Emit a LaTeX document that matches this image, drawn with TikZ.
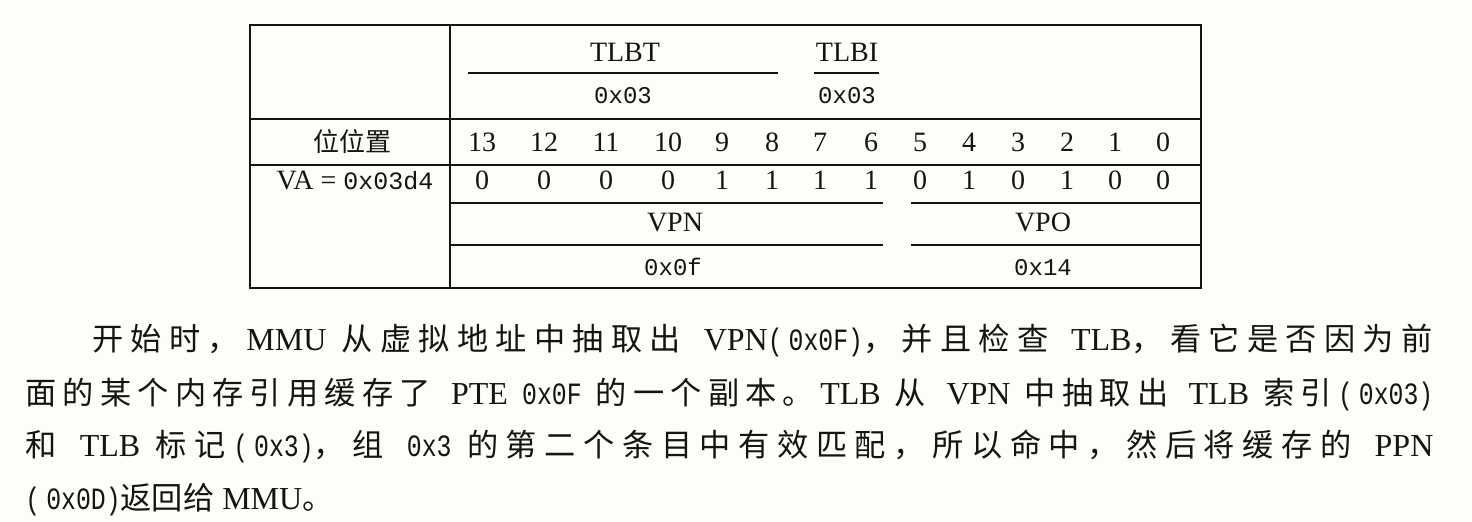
\documentclass[tikz,border=0pt]{standalone}
\usepackage{fontspec}
\setmainfont{Liberation Serif}
\setmonofont{Liberation Mono}
\newfontfamily\cjk{Noto Sans CJK SC}
\newfontfamily\narrowmono[FakeStretch=0.8]{Liberation Mono}
\definecolor{paper}{RGB}{254,254,248}
\definecolor{ink}{RGB}{20,20,20}
\def\zhloop#1{\ifx#1\relax\else#1\hskip0pt plus 1pt\relax\expandafter\zhloop\fi}
\newcommand\zh[1]{{\cjk\fontsize{15.6}{18}\selectfont\zhloop#1\relax}}
\newcommand\hexv[1]{{\fontsize{12.5}{14}\ttfamily #1}}
\newcommand\hexp[1]{{\narrowmono\fontsize{15.5}{18}\selectfont #1}}
\newcommand\hx[1]{\hexp{(\kern3pt #1)}}
\newcommand\widesp{\spaceskip=4pt plus 1pt minus 1pt\relax}

\begin{document}
\begin{tikzpicture}[x=0.5pt,y=-0.5pt,
  every node/.style={inner sep=0pt,text=ink},
  field/.style={anchor=base,font=\fontsize{14}{16}\selectfont},
  hexlab/.style={anchor=base,font=\fontsize{12}{14}\ttfamily},
  textline/.style={anchor=base west,font=\fontsize{16}{18}\selectfont},
  tabline/.style={line width=\lw,ink}]
\def\lw{0.8pt}
\fill[paper] (0,0) rectangle (1472,522);
\useasboundingbox (0,0) rectangle (1472,522);

%\draw[help lines] (0,0) grid (1472,522);
\draw [tabline, line width=1pt] (250,25) rectangle (1201,288);
\draw [tabline] (450,25) -- (450,288);
\draw [tabline] (250,119) -- (1201,119);
\draw [tabline] (250,165) -- (1201,165);
\draw [tabline] (450,203) -- (883,203);
\draw [tabline] (911,203) -- (1201,203);
\draw [tabline] (450,245) -- (883,245);
\draw [tabline] (911,245) -- (1201,245);
\draw [tabline] (468,73) -- (778,73);
\draw [tabline] (814,73) -- (879,73);

\node [field, name=tlbt]    at (625,62)  {TLBT};
\node [hexlab, name=tlbtv]  at (623,104) {0x03};
\node [field, name=tlbi]    at (847,62)  {TLBI};
\node [hexlab, name=tlbiv]  at (847,104) {0x03};
\node [field, name=pos]     at (352,152) {{\cjk\fontsize{13}{15}\selectfont 位位置}};
\node [field, name=va]      at (355,190) {VA = \hexv{0x03d4}};

\node [field, name=n13] at (482,152)  {13};
\node [field, name=n12] at (544,152)  {12};
\node [field, name=n11] at (606,152)  {11};
\node [field, name=n10] at (668,152)  {10};
\node [field, name=n9]  at (722,152)  {9};
\node [field, name=n8]  at (772,152)  {8};
\node [field, name=n7]  at (820,152)  {7};
\node [field, name=n6]  at (871,152)  {6};
\node [field, name=n5]  at (920,152)  {5};
\node [field, name=n4]  at (969,152)  {4};
\node [field, name=n3]  at (1018,152) {3};
\node [field, name=n2]  at (1067,152) {2};
\node [field, name=n1]  at (1115,152) {1};
\node [field, name=n0]  at (1163,152) {0};

\node [field, name=v13] at (482,190)  {0};
\node [field, name=v12] at (544,190)  {0};
\node [field, name=v11] at (606,190)  {0};
\node [field, name=v10] at (668,190)  {0};
\node [field, name=v9]  at (722,190)  {1};
\node [field, name=v8]  at (772,190)  {1};
\node [field, name=v7]  at (820,190)  {1};
\node [field, name=v6]  at (871,190)  {1};
\node [field, name=v5]  at (920,190)  {0};
\node [field, name=v4]  at (969,190)  {1};
\node [field, name=v3]  at (1018,190) {0};
\node [field, name=v2]  at (1067,190) {1};
\node [field, name=v1]  at (1115,190) {0};
\node [field, name=v0]  at (1163,190) {0};

\node [field, name=vpn]   at (675,232)  {VPN};
\node [hexlab, name=vpnv] at (673,276)  {0x0f};
\node [field, name=vpo]   at (1043,232) {VPO};
\node [hexlab, name=vpov] at (1043,276) {0x14};

% paragraph below the table, each line spread to the full measure
\node [textline, name=p1] at (92,351) {\hbox to 670pt{\widesp\zh{开始时，}MMU \zh{从虚拟地址中抽取出} VPN\hx{0x0F}\zh{，并且检查} TLB\zh{，看它是否因为前}\unskip}};
\node [textline, name=p2] at (25,405) {\hbox to 704pt{\widesp\zh{面的某个内存引用缓存了} PTE \hexp{0x0F} \zh{的一个副本。}TLB \zh{从} VPN \zh{中抽取出} TLB \zh{索引}\hx{0x03}\unskip}};
\node [textline, name=p3] at (25,457) {\hbox to 704pt{\widesp\zh{和} TLB \zh{标记}\hx{0x3}\zh{，组} \hexp{0x3} \zh{的第二个条目中有效匹配，所以命中，然后将缓存的} PPN\unskip}};
\node [textline, name=p4] at (25,510) {\hx{0x0D}\zh{返回给} MMU\zh{。}};
\end{tikzpicture}
\end{document}
